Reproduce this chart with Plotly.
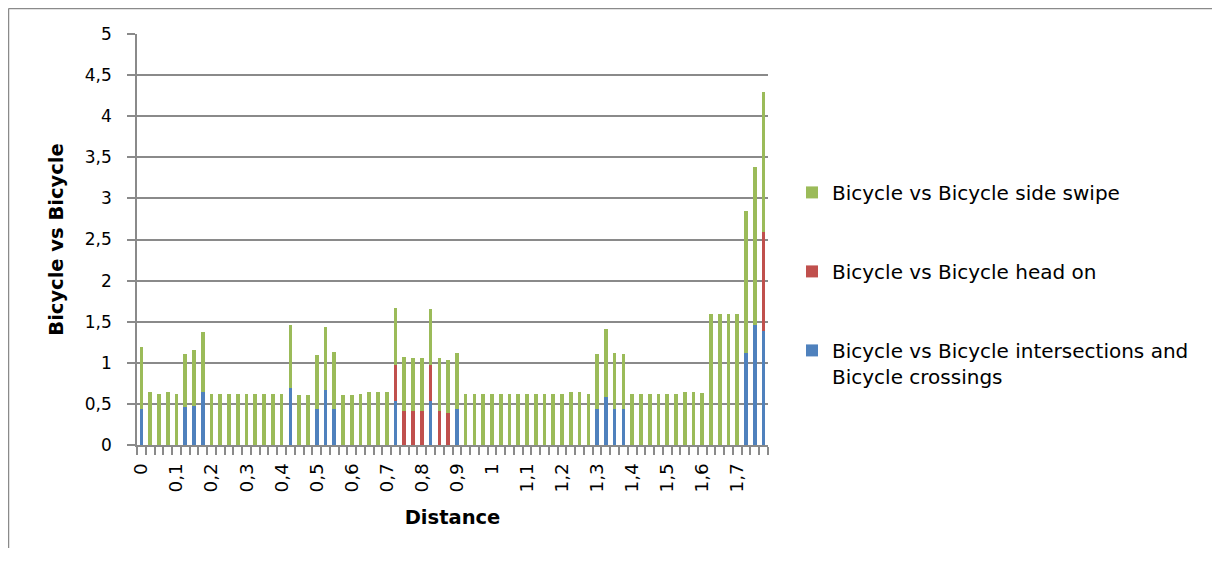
import plotly.graph_objects as go

distance = [0.0, 0.025, 0.05, 0.075, 0.1, 0.125, 0.15, 0.175, 0.2, 0.225, 0.25, 0.275,
            0.3, 0.325, 0.35, 0.375, 0.4, 0.425, 0.45, 0.475, 0.5, 0.525, 0.55, 0.575,
            0.6, 0.625, 0.65, 0.675, 0.7, 0.725, 0.75, 0.775, 0.8, 0.825, 0.85, 0.875,
            0.9, 0.925, 0.95, 0.975, 1.0, 1.025, 1.05, 1.075, 1.1, 1.125, 1.15, 1.175,
            1.2, 1.225, 1.25, 1.275, 1.3, 1.325, 1.35, 1.375, 1.4, 1.425, 1.45, 1.475,
            1.5, 1.525, 1.55, 1.575, 1.6, 1.625, 1.65, 1.675, 1.7, 1.725, 1.75, 1.775]

intersections = [0.44, 0, 0, 0, 0, 0.46, 0.48, 0.64, 0, 0, 0, 0,
                 0, 0, 0, 0, 0, 0.69, 0, 0, 0.44, 0.67, 0.44, 0,
                 0, 0, 0, 0, 0, 0.53, 0, 0, 0, 0.53, 0, 0,
                 0.44, 0, 0, 0, 0, 0, 0, 0, 0, 0, 0, 0,
                 0, 0, 0, 0, 0.44, 0.58, 0.44, 0.44, 0, 0, 0, 0,
                 0, 0, 0, 0, 0, 0, 0, 0, 0, 1.12, 1.46, 1.39]

head_on = [0, 0, 0, 0, 0, 0, 0, 0, 0, 0, 0, 0,
           0, 0, 0, 0, 0, 0, 0, 0, 0, 0, 0, 0,
           0, 0, 0, 0, 0, 0.44, 0.41, 0.41, 0.41, 0.44, 0.41, 0.39,
           0, 0, 0, 0, 0, 0, 0, 0, 0, 0, 0, 0,
           0, 0, 0, 0, 0, 0, 0, 0, 0, 0, 0, 0,
           0, 0, 0, 0, 0, 0, 0, 0, 0, 0, 0, 1.20]

side_swipe = [0.75, 0.64, 0.62, 0.64, 0.62, 0.65, 0.67, 0.73, 0.62, 0.62, 0.62, 0.62,
              0.62, 0.62, 0.62, 0.62, 0.62, 0.77, 0.61, 0.61, 0.65, 0.76, 0.69, 0.61,
              0.61, 0.62, 0.64, 0.64, 0.64, 0.70, 0.66, 0.65, 0.65, 0.68, 0.65, 0.65,
              0.68, 0.62, 0.62, 0.62, 0.62, 0.62, 0.62, 0.62, 0.62, 0.62, 0.62, 0.62,
              0.62, 0.64, 0.64, 0.62, 0.67, 0.83, 0.68, 0.67, 0.62, 0.62, 0.62, 0.62,
              0.62, 0.62, 0.64, 0.64, 0.63, 1.59, 1.59, 1.59, 1.59, 1.73, 1.92, 1.71]

x_tick_values = [0.0, 0.1, 0.2, 0.3, 0.4, 0.5, 0.6, 0.7, 0.8, 0.9,
                 1.0, 1.1, 1.2, 1.3, 1.4, 1.5, 1.6, 1.7]
x_tick_labels = ["0", "0,1", "0,2", "0,3", "0,4", "0,5", "0,6", "0,7", "0,8", "0,9",
                 "1", "1,1", "1,2", "1,3", "1,4", "1,5", "1,6", "1,7"]

series_names = ["Bicycle vs Bicycle intersections and<br>Bicycle crossings",
                "Bicycle vs Bicycle head on",
                "Bicycle vs Bicycle side swipe"]
series_colors = ["#4F81BD", "#C0504D", "#9BBB59"]
legend_ranks = [3, 2, 1]

FONT = "DejaVu Sans"
GRID = "#8a8a8a"

# page body has an 8px margin; the figure is sized so that it ends at 1220x563
OFF = 8
W, H = 1220 - OFF, 563 - OFF

fig = go.Figure()
for i, (vals, name, col, rk) in enumerate(zip([intersections, head_on, side_swipe],
                                               series_names, series_colors, legend_ranks)):
    fig.add_trace(go.Bar(x=distance, y=vals, name=name, marker_color=col,
                         marker_line_width=0, legendgroup=f"g{i}", legendrank=rk))

step = distance[1] - distance[0]
boundaries = [d - step / 2 for d in distance] + [distance[-1] + step / 2]

fig.update_layout(
    width=W, height=H,
    margin=dict(l=137 - OFF, r=1220 - 768, t=34 - OFF, b=563 - 445),
    paper_bgcolor="white", plot_bgcolor="white",
    barmode="stack", bargap=0.58,
    separators=",.",
    font=dict(family=FONT, size=16, color="#000000"),
    showlegend=True,
    legend=dict(x=1.038, xanchor="left", y=0.662, yanchor="top",
                traceorder="grouped", tracegroupgap=50, valign="top",
                font=dict(family=FONT, size=20, color="#000000"),
                bgcolor="rgba(0,0,0,0)"),
    xaxis=dict(range=[boundaries[0], boundaries[-1]], tickmode="array",
               tickvals=x_tick_values, ticktext=x_tick_labels, tickangle=-90,
               ticks="", showgrid=False, zeroline=False,
               showline=True, linecolor=GRID, linewidth=1.5,
               ticklabelstandoff=9,
               tickfont=dict(family=FONT, size=18.5),
               minor=dict(tickmode="array", tickvals=boundaries, ticks="outside",
                          ticklen=8, tickcolor=GRID, tickwidth=1.5, showgrid=False),
               title=dict(text="<b>Distance</b>", standoff=19,
                          font=dict(family=FONT, size=19.5))),
    yaxis=dict(range=[0, 5], dtick=0.5, tick0=0, showgrid=True, gridcolor=GRID,
               gridwidth=1.5, zeroline=False, showline=True, linecolor=GRID,
               linewidth=1.5, ticks="outside", ticklen=8, tickcolor=GRID,
               tickwidth=1.5, ticklabelstandoff=12,
               tickfont=dict(family=FONT, size=17),
               title=dict(text="<b>Bicycle vs Bicycle</b>", standoff=16,
                          font=dict(family=FONT, size=19.5))),
)

# screen-pixel -> paper coordinates (plot area spans 137..768 x 34..445 on screen)
def px(xp):
    return (xp - 137) / 631

def py(yp):
    return (445 - yp) / 411

# outer chart frame (top and left edges visible)
fig.add_shape(type="line", xref="paper", yref="paper", x0=px(OFF + 0.5), x1=px(1220),
              y0=py(OFF + 0.5), y1=py(OFF + 0.5), line=dict(color=GRID, width=1.5))
fig.add_shape(type="line", xref="paper", yref="paper", x0=px(OFF + 0.5), x1=px(OFF + 0.5),
              y0=py(OFF + 0.5), y1=py(548), line=dict(color=GRID, width=1.5))

fig.write_html("out.html")
